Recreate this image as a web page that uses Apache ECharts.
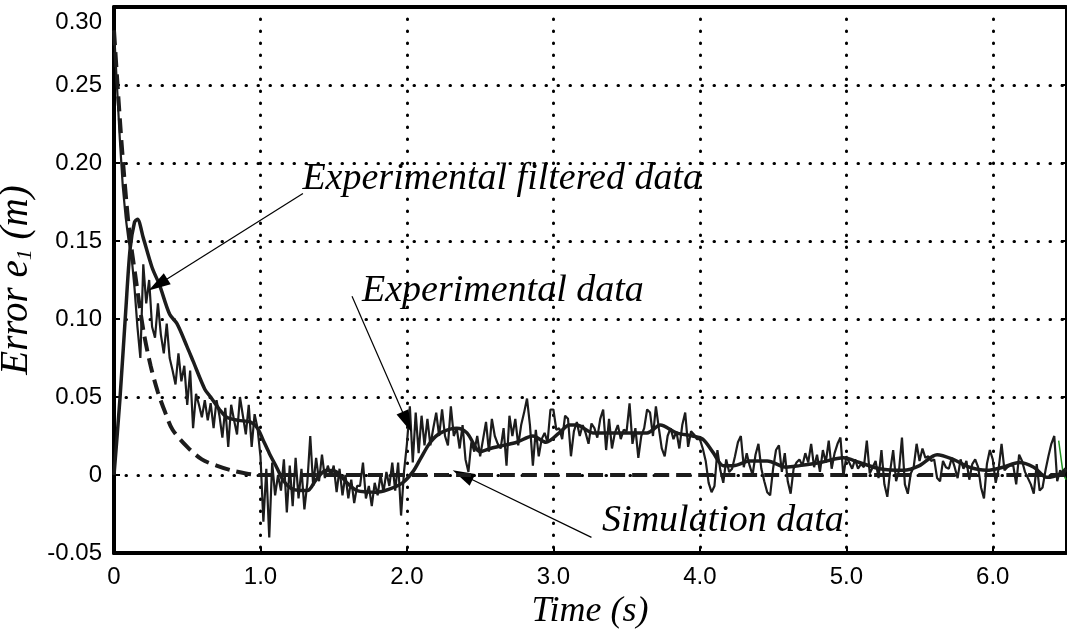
<!DOCTYPE html>
<html lang="en">
<head>
    <meta charset="UTF-8">
    <title>Error e1 vs Time</title>
    <script src="https://cdn.jsdelivr.net/npm/echarts/dist/echarts.min.js"></script>
    <style>
        html, body {
            margin: 0;
            padding: 0;
            background: #ffffff;
        }
        #chart {
            width: 1067px;
            height: 633px;
        }
    </style>
</head>
<body>
    <div id="chart"></div>

    <script>
        // tick labels
        const xTickLabels = ['0', '1.0', '2.0', '3.0', '4.0', '5.0', '6.0'];
        const yTickLabels = ['-0.05', '0', '0.05', '0.10', '0.15', '0.20', '0.25', '0.30'];

        // simulation data (dashed)
        const simT = [0, 0.05, 0.1, 0.15, 0.2, 0.25, 0.3, 0.35, 0.4, 0.5, 0.6, 0.7, 0.8, 0.9, 1.0, 6.5];
        const simV = [0.285, 0.215, 0.16, 0.125, 0.093, 0.07, 0.053, 0.04, 0.029, 0.018, 0.010, 0.006, 0.003, 0.001, 0, 0];

        // experimental filtered data (thick smooth line)
        const filtT = [0, 0.04, 0.08, 0.11, 0.14, 0.16, 0.2, 0.26, 0.31, 0.38,
            0.43, 0.5, 0.54, 0.62, 0.66, 0.72, 0.77, 0.85, 0.93, 0.98,
            1.02, 1.06, 1.11, 1.16, 1.22, 1.32, 1.38, 1.45, 1.52, 1.59,
            1.66, 1.79, 1.88, 1.97, 2.04, 2.09, 2.16, 2.23, 2.34, 2.41,
            2.5, 2.57, 2.66, 2.75, 2.86, 2.95, 3.04, 3.11, 3.16, 3.27,
            3.5, 3.64, 3.73, 3.84, 3.95, 4.02, 4.09, 4.16, 4.23, 4.34,
            4.46, 4.59, 4.68, 4.82, 4.98, 5.09, 5.23, 5.39, 5.5, 5.62,
            5.73, 5.84, 5.96, 6.07, 6.18, 6.28, 6.37, 6.46, 6.5];
        const filtV = [0, 0.048, 0.105, 0.145, 0.162, 0.164, 0.152, 0.133, 0.122, 0.103,
            0.097, 0.082, 0.073, 0.055, 0.05, 0.042, 0.037, 0.035, 0.034, 0.03,
            0.022, 0.014, 0.005, -0.004, -0.009, -0.01, -0.003, 0.003, 0.002, -0.005,
            -0.01, -0.011, -0.009, -0.005, 0.002, 0.01, 0.021, 0.027, 0.03, 0.027,
            0.015, 0.017, 0.019, 0.021, 0.025, 0.021, 0.027, 0.032, 0.032, 0.027,
            0.027, 0.027, 0.032, 0.027, 0.025, 0.023, 0.0145, 0.006, 0.006, 0.009,
            0.009, 0.005, 0.006, 0.008, 0.011, 0.008, 0.004, 0.003, 0.006, 0.013,
            0.01, 0.005, 0.003, 0.005, 0.008, 0.005, -0.0015, 0.0006, 0.004];

        // experimental raw data, one sample every 0.02 s, one array per second
        const expStep = 0.02;
        const exp0 = [0.285, 0.25, 0.215, 0.185, 0.165, 0.15, 0.14, 0.12, 0.095, 0.075,
            0.135, 0.11, 0.125, 0.095, 0.088, 0.11, 0.09, 0.078, 0.097, 0.075,
            0.067, 0.058, 0.078, 0.06, 0.07, 0.045, 0.067, 0.03, 0.052, 0.045,
            0.037, 0.048, 0.035, 0.046, 0.03, 0.048, 0.038, 0.024, 0.043, 0.018,
            0.045, 0.035, 0.026, 0.05, 0.038, 0.026, 0.045, 0.018, 0.039, 0.03];
        const exp1 = [0.012, -0.03, 0.004, -0.04, 0.008, -0.013, 0, -0.01, 0.01, -0.024,
            0.006, -0.02, 0.011, -0.015, 0.004, -0.022, -0.005, 0.025, -0.007, 0.011,
            -0.004, 0.013, -0.002, 0.006, -0.001, 0.006, -0.011, 0.004, -0.013, 0,
            -0.015, -0.003, -0.018, -0.007, -0.007, 0.008, -0.015, -0.007, -0.02, -0.005,
            -0.013, 0, -0.011, 0.002, -0.007, 0.008, -0.01, 0.008, -0.026, 0.002];
        const exp2 = [0.02, 0.044, 0.008, 0.04, 0.014, 0.038, 0.019, 0.036, 0.019, 0.03,
            0.04, 0.025, 0.042, 0.025, 0.019, 0.044, 0.025, 0.03, 0.017, 0.032,
            0.01, 0.002, 0.021, 0.015, 0.025, 0.012, 0.023, 0.034, 0.015, 0.036,
            0.025, 0.02, 0.017, 0.03, 0.006, 0.038, 0.025, 0.036, 0.019, 0.032,
            0.04, 0.049, 0.032, 0.006, 0.029, 0.012, 0.023, 0.027, 0.021, 0.042];
        const exp3 = [0.042, 0.029, 0.03, 0.023, 0.038, 0.036, 0.012, 0.028, 0.034, 0.025,
            0.032, 0.027, 0.02, 0.033, 0.03, 0.024, 0.036, 0.042, 0.016, 0.036,
            0.017, 0.027, 0.032, 0.023, 0.029, 0.028, 0.046, 0.02, 0.03, 0.011,
            0.025, 0.03, 0.042, 0.04, 0.025, 0.044, 0.03, 0.017, 0.012, 0.025,
            0.03, 0.023, 0.028, 0.017, 0.032, 0.04, 0.018, 0.028, 0.026, 0.023];
        const exp4 = [0.023, 0.017, 0.009, -0.005, -0.011, -0.007, 0.016, 0.003, -0.005, 0.01,
            0.002, 0.004, 0.012, 0.021, 0.025, 0.005, 0.014, 0.006, 0, 0.013,
            0.02, 0.004, -0.004, -0.011, -0.013, 0.004, 0.016, 0.019, 0.002, 0.014,
            -0.004, -0.012, 0.004, 0.008, 0.01, 0.006, 0.014, 0.008, 0.02, 0.005,
            0.013, 0.002, 0.016, 0.008, 0.022, 0.004, 0.014, 0.02, 0.024, -0.001];
        const exp5 = [0.012, 0.008, 0.004, 0.01, 0.004, 0.007, 0.005, 0.022, 0.001, 0.005,
            0.009, -0.002, 0.016, -0.006, -0.014, 0.003, 0.016, -0.004, 0.003, 0.024,
            -0.006, -0.012, 0.001, 0.005, 0.02, 0.009, 0.017, 0.011, 0.012, 0.009,
            0.01, -0.002, -0.004, 0.009, 0.005, 0.004, 0.011, 0.005, -0.002, 0.01,
            0.004, 0.009, -0.003, 0.007, 0.01, 0.005, -0.008, -0.015, 0.007, 0.016];
        const exp6 = [0.01, -0.005, 0.004, 0.02, 0.003, 0.005, 0.006, 0.006, -0.006, 0.013,
            0.009, 0.002, -0.002, -0.006, -0.012, 0.007, -0.01, -0.008, 0.003, 0.012,
            0.02, 0.025, -0.004, 0.003, 0, 0.003];

        // small green trace at the right edge
        const greenT = [6.45, 6.48, 6.5];
        const greenV = [0.022, 0.001, -0.003];

        // annotations: text anchor [t, v] and arrow [from, to]
        const notes = [
            { text: 'Experimental filtered data', at: [1.283, 0.1895], from: [1.29, 0.1805], to: [0.30, 0.122] },
            { text: 'Experimental data', at: [1.69, 0.118], from: [1.625, 0.1146], to: [2.0, 0.034] },
            { text: 'Simulation data', at: [3.329, -0.0292], from: [3.26, -0.04], to: [2.38, 0.0] }
        ];

        const ink = '#1c1c1c';
        const serif = '"Liberation Serif", "DejaVu Serif", serif';
        const sans = '"Liberation Sans", Arial, sans-serif';

        const expV = [].concat(exp0, exp1, exp2, exp3, exp4, exp5, exp6);
        const expData = expV.map((v, i) => [+(i * expStep).toFixed(2), v]);
        const filtData = filtT.map((t, i) => [t, filtV[i]]);
        const simData = simT.map((t, i) => [t, simV[i]]);
        const greenData = greenT.map((t, i) => [t, greenV[i]]);

        const dotted = { color: '#000', width: 3, type: [0.5, 11.5], cap: 'round' };

        const chart = echarts.init(document.getElementById('chart'));

        const option = {
            animation: false,
            backgroundColor: '#ffffff',
            grid: { left: 114, right: 1, top: 7, bottom: 80, outerBoundsMode: 'none', containLabel: false },
            xAxis: [{
                type: 'value',
                min: 0, max: 6.5, interval: 1,
                position: 'bottom',
                name: 'Time (s)',
                nameLocation: 'middle',
                nameGap: 35,
                nameTextStyle: { fontFamily: serif, fontStyle: 'italic', fontSize: 36, color: '#000' },
                axisLine: { show: true, onZero: false, lineStyle: { color: '#000', width: 4 } },
                axisTick: { show: true, inside: true, length: 6, lineStyle: { color: '#000', width: 2 } },
                axisLabel: {
                    color: '#000', fontFamily: sans, fontSize: 24, margin: 12,
                    showMaxLabel: false,
                    formatter: v => Number.isInteger(v) ? xTickLabels[v] : ''
                },
                splitLine: { show: true, lineStyle: dotted }
            }, {
                type: 'value',
                min: 0, max: 6.5, interval: 1,
                position: 'top',
                axisLine: { show: true, onZero: false, lineStyle: { color: '#000', width: 4 } },
                axisTick: { show: false },
                axisLabel: { show: false },
                splitLine: { show: false }
            }],
            yAxis: [{
                type: 'value',
                min: -0.05, max: 0.30, interval: 0.05,
                position: 'left',
                name: '{i|Error e}{s|1}{i| (m)}',
                nameLocation: 'middle',
                nameRotate: 90,
                nameGap: 69,
                nameTextStyle: {
                    rich: {
                        i: { fontFamily: serif, fontStyle: 'italic', fontSize: 39, color: '#000', lineHeight: 39 },
                        s: { fontFamily: serif, fontStyle: 'italic', fontSize: 22, color: '#000', verticalAlign: 'bottom', lineHeight: 22 }
                    }
                },
                axisLine: { show: true, onZero: false, lineStyle: { color: '#000', width: 4 } },
                axisTick: { show: true, inside: true, length: 6, lineStyle: { color: '#000', width: 2 } },
                axisLabel: {
                    color: '#000', fontFamily: sans, fontSize: 24, margin: 12,
                    formatter: v => {
                        const k = Math.round((v + 0.05) / 0.05);
                        return k === yTickLabels.length - 1 ? '{top|' + yTickLabels[k] + '}' : yTickLabels[k];
                    },
                    rich: { top: { fontFamily: sans, fontSize: 24, color: '#000', padding: [30, 0, 0, 0] } }
                },
                splitLine: { show: true, lineStyle: dotted }
            }, {
                type: 'value',
                min: -0.05, max: 0.30, interval: 0.05,
                position: 'right',
                axisLine: { show: true, onZero: false, lineStyle: { color: '#000', width: 2 } },
                axisTick: { show: true, inside: true, length: 5, lineStyle: { color: '#000', width: 2 } },
                axisLabel: { show: false },
                splitLine: { show: false }
            }],
            series: [{
                name: 'Experimental data',
                type: 'line',
                data: expData,
                showSymbol: false,
                lineStyle: { color: ink, width: 2.2 },
                z: 3
            }, {
                name: 'Experimental filtered data',
                type: 'line',
                data: filtData,
                smooth: 0.3,
                showSymbol: false,
                lineStyle: { color: ink, width: 3.5 },
                z: 4
            }, {
                name: 'Simulation data',
                type: 'line',
                data: simData,
                smooth: 0.3,
                showSymbol: false,
                lineStyle: { color: ink, width: 4, type: [15, 7] },
                z: 5
            }, {
                name: 'green',
                type: 'line',
                data: greenData,
                showSymbol: false,
                lineStyle: { color: '#1f8f1f', width: 1.5 },
                z: 2
            }, {
                name: 'notes',
                type: 'line',
                data: [],
                z: 6,
                markLine: {
                    silent: true,
                    animation: false,
                    symbol: ['none', 'triangle'],
                    symbolSize: [0, 18],
                    label: { show: false },
                    lineStyle: { color: '#000', width: 1.2, type: 'solid' },
                    data: notes.map(n => [
                        { coord: n.from, symbol: 'none' },
                        { coord: n.to, symbol: 'triangle', symbolSize: [13, 22], itemStyle: { color: '#000' } }
                    ])
                },
                markPoint: {
                    silent: true,
                    animation: false,
                    symbol: 'rect',
                    symbolSize: 1,
                    itemStyle: { color: 'rgba(0,0,0,0)' },
                    label: {
                        show: true,
                        position: 'right',
                        distance: 0,
                        color: '#000',
                        fontFamily: serif,
                        fontStyle: 'italic',
                        fontSize: 38
                    },
                    data: notes.map(n => ({ coord: n.at, label: { formatter: n.text } }))
                }
            }]
        };

        chart.setOption(option);
    </script>
</body>
</html>
